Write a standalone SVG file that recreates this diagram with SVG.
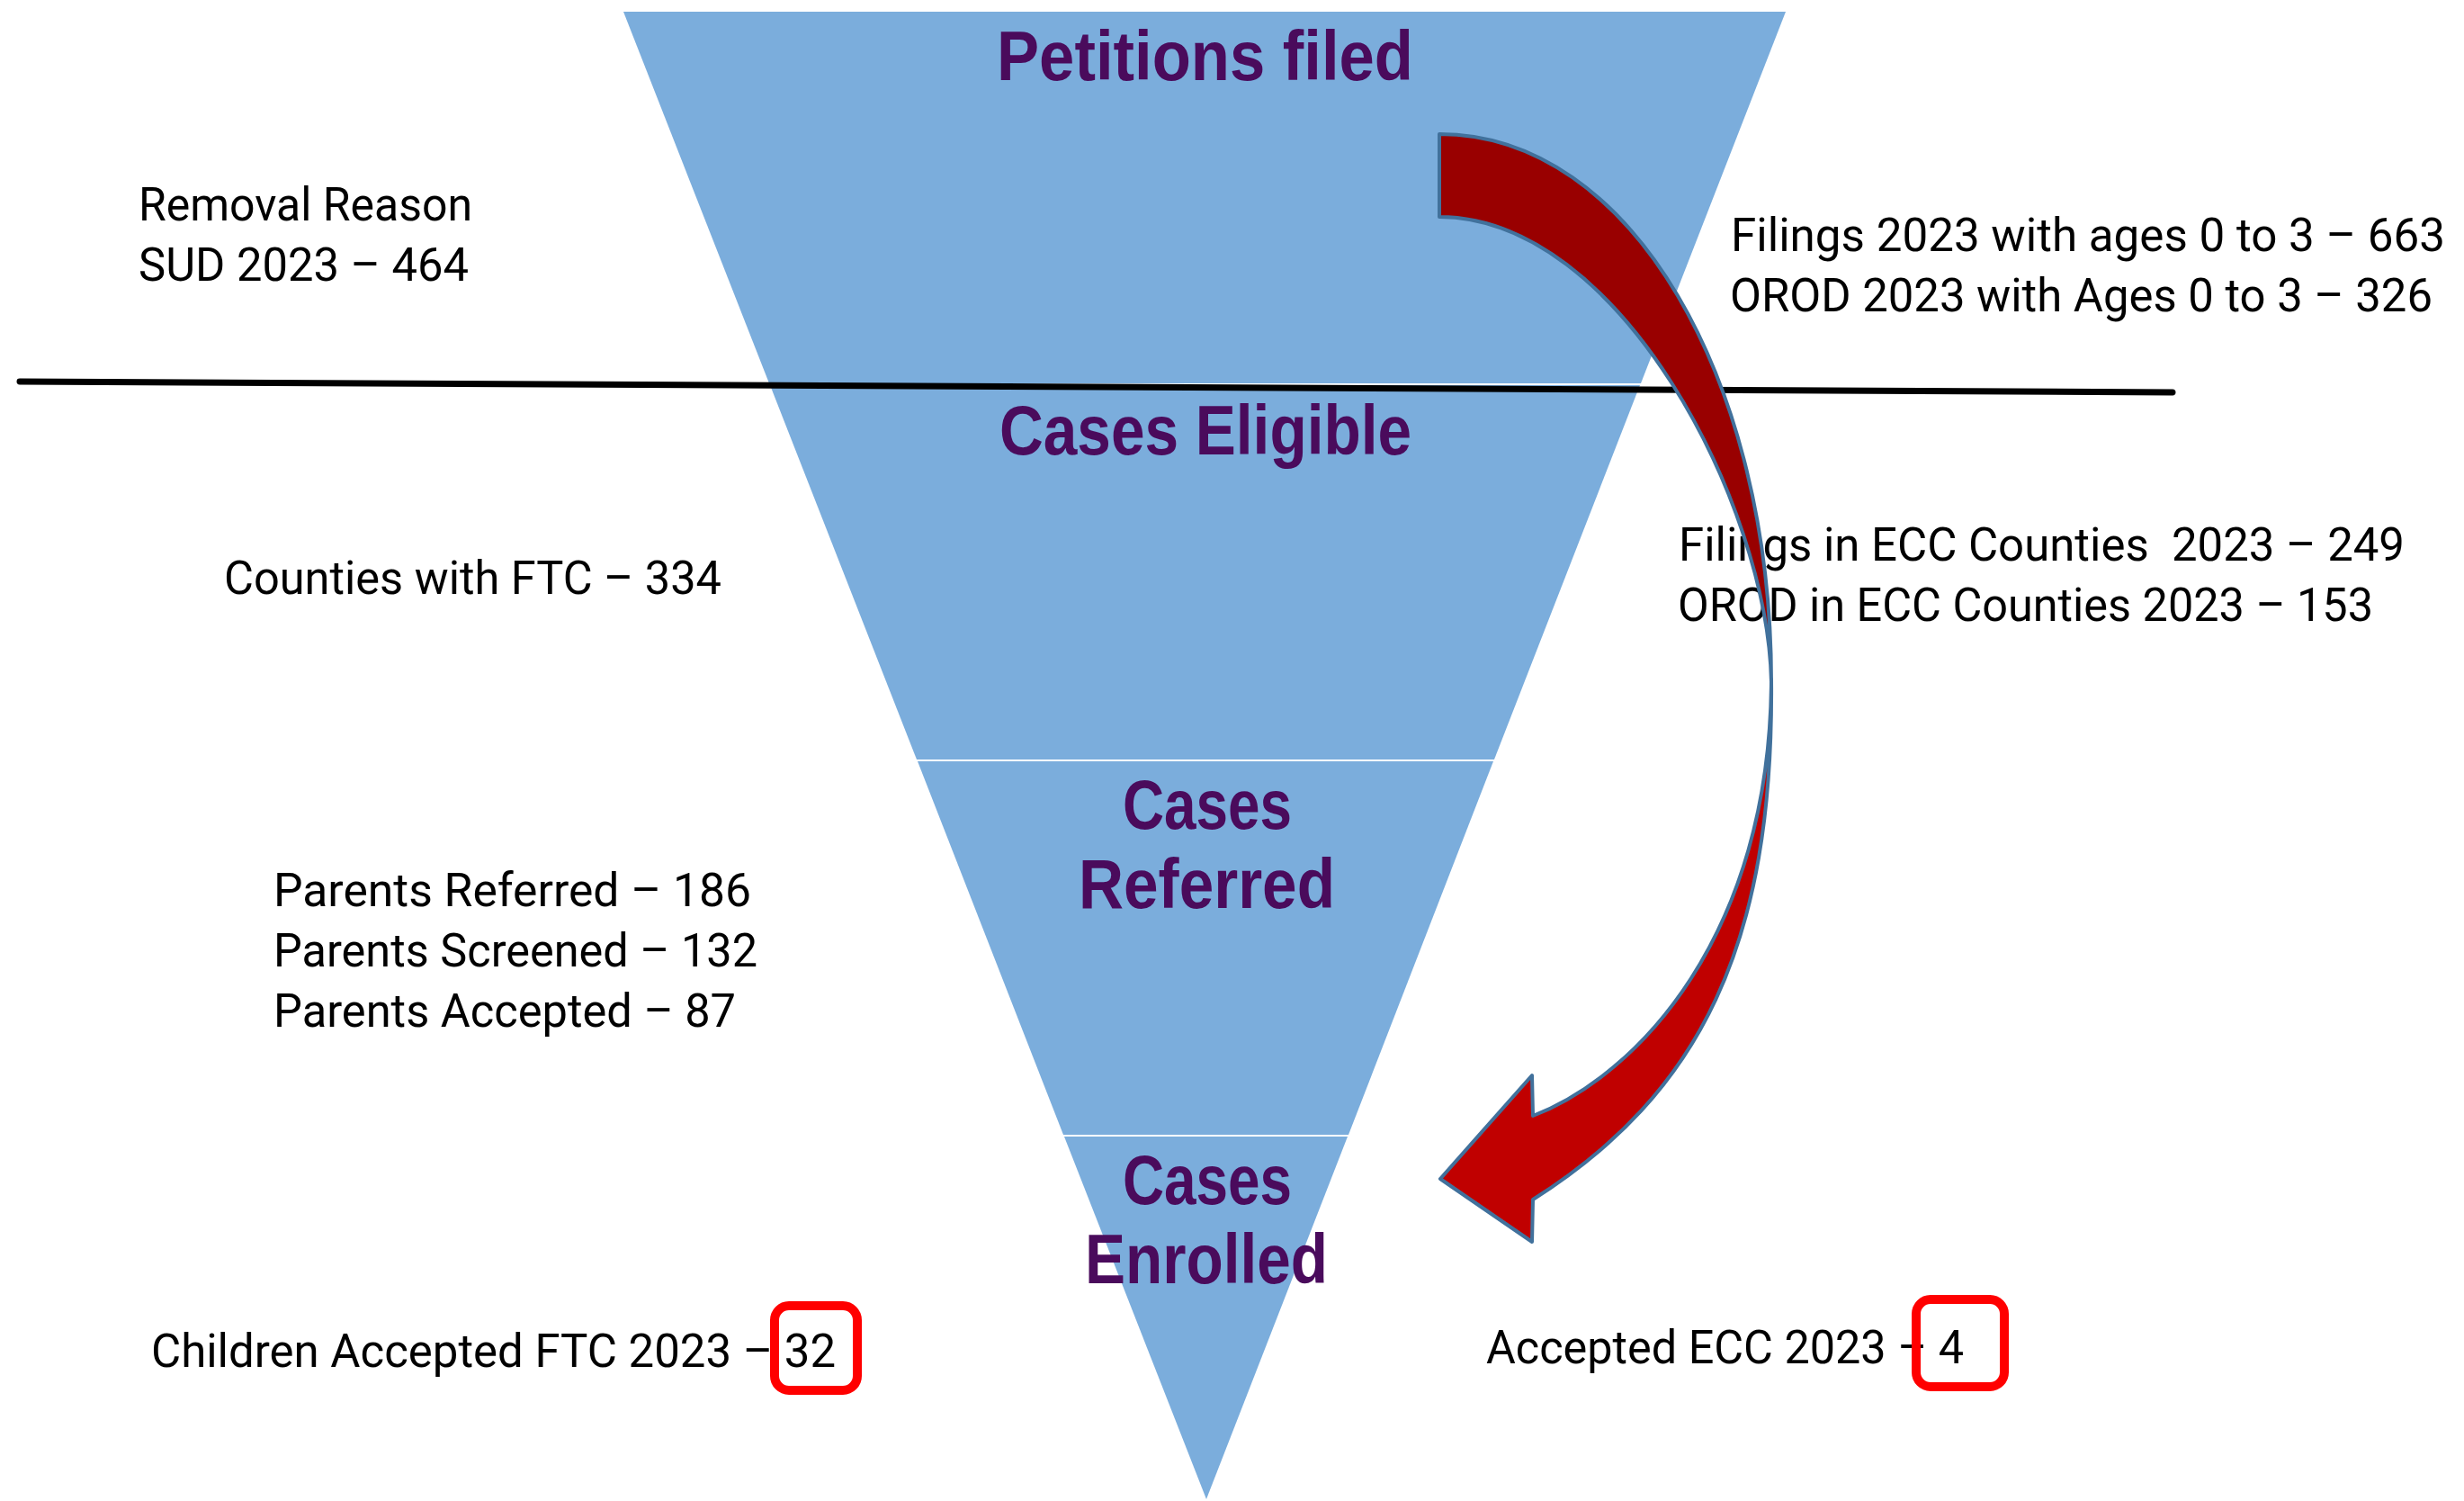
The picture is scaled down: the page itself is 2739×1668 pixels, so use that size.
<svg xmlns="http://www.w3.org/2000/svg" width="2739" height="1668" viewBox="0 0 2739 1668">
  <style>
    .stage { fill: #7BADDC; }
    .title { font-family: "Liberation Sans", "Noto Sans", sans-serif; font-weight: 700; font-size: 78px; fill: #4A0B5C; }
    .lbl { font-family: Roboto, "Liberation Sans", sans-serif; font-size: 52px; fill: #000000; }
    .back { fill: #990000; stroke: #41719C; stroke-width: 4; stroke-linejoin: round; }
    .front { fill: #C00000; stroke: #41719C; stroke-width: 4; stroke-linejoin: round; }
    .hl { fill: none; stroke: #FF0000; stroke-width: 10; }
  </style>
  <rect width="2739" height="1668" fill="#FFFFFF"/>

  <g id="stage-petitions">
    <polygon class="stage" points="693,13 1985,13 1824,426 855,426"/>
    <text class="title" x="1108" y="89" textLength="463" lengthAdjust="spacingAndGlyphs">Petitions filed</text>
  </g>
  <g id="stage-eligible">
    <polygon class="stage" points="856,428 1823,428 1661,844 1019,844"/>
    <text class="title" x="1111" y="505" textLength="458" lengthAdjust="spacingAndGlyphs">Cases Eligible</text>
  </g>
  <g id="stage-referred">
    <polygon class="stage" points="1020,846 1660,846 1499,1261 1182,1261"/>
    <text class="title" x="1248" y="921" textLength="188" lengthAdjust="spacingAndGlyphs">Cases</text>
    <text class="title" x="1199" y="1009" textLength="285" lengthAdjust="spacingAndGlyphs">Referred</text>
  </g>
  <g id="stage-enrolled">
    <polygon class="stage" points="1183,1263 1498,1263 1341,1666"/>
    <text class="title" x="1248" y="1338" textLength="188" lengthAdjust="spacingAndGlyphs">Cases</text>
    <text class="title" x="1206" y="1426" textLength="270" lengthAdjust="spacingAndGlyphs">Enrolled</text>
  </g>

  <g id="divider">
    <line x1="22" y1="424" x2="2415" y2="436" stroke="#000000" stroke-width="7" stroke-linecap="round"/>
  </g>

  <g id="notes-left">
    <text class="lbl" x="154" y="245" textLength="371" lengthAdjust="spacingAndGlyphs">Removal Reason</text>
    <text class="lbl" x="154" y="312" textLength="367" lengthAdjust="spacingAndGlyphs">SUD 2023 – 464</text>
    <text class="lbl" x="249" y="660" textLength="553" lengthAdjust="spacingAndGlyphs">Counties with FTC – 334</text>
    <text class="lbl" x="304" y="1007" textLength="531" lengthAdjust="spacingAndGlyphs">Parents Referred – 186</text>
    <text class="lbl" x="304" y="1074" textLength="538" lengthAdjust="spacingAndGlyphs">Parents Screened – 132</text>
    <text class="lbl" x="304" y="1141" textLength="514" lengthAdjust="spacingAndGlyphs">Parents Accepted – 87</text>
    <text class="lbl" x="168" y="1519" textLength="761" lengthAdjust="spacingAndGlyphs">Children Accepted FTC 2023 – 32</text>
  </g>

  <g id="notes-right">
    <text class="lbl" x="1924" y="279" textLength="794" lengthAdjust="spacingAndGlyphs">Filings 2023 with ages 0 to 3 – 663</text>
    <text class="lbl" x="1923" y="346" textLength="781" lengthAdjust="spacingAndGlyphs">OROD 2023 with Ages 0 to 3 – 326</text>
    <text class="lbl" x="1866" y="623" textLength="807" lengthAdjust="spacingAndGlyphs" xml:space="preserve">Filings in ECC Counties  2023 – 249</text>
    <text class="lbl" x="1865" y="690" textLength="773" lengthAdjust="spacingAndGlyphs">OROD in ECC Counties 2023 – 153</text>
    <text class="lbl" x="1652" y="1515" textLength="531" lengthAdjust="spacingAndGlyphs">Accepted ECC 2023 – 4</text>
  </g>

  <g id="connectors">
    <path class="back" d="M1600,149 C1814,149 1969,424 1969,758 C1965,560 1800,241 1600,241 Z"/>
    <path class="front" d="M1969,755 C1972,1050 1890,1215 1704,1333 L1703,1380 L1601,1310 L1703,1195 L1704,1240 C1820,1195 1968,1040 1969,755 Z"/>
  </g>

  <g id="highlights">
    <rect class="hl" x="861" y="1451" width="92" height="94" rx="16"/>
    <rect class="hl" x="2130" y="1444" width="98" height="97" rx="16"/>
  </g>
</svg>
